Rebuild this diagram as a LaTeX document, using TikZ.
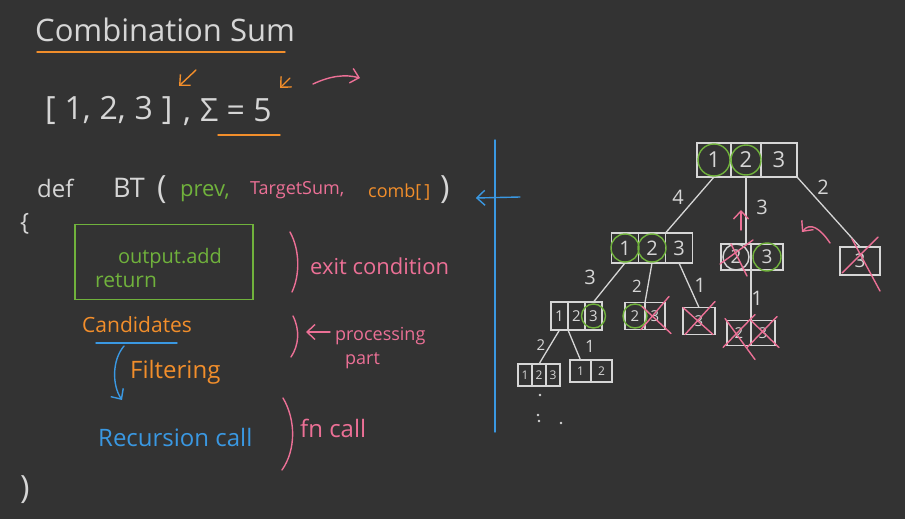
\documentclass[tikz,border=0pt]{standalone}
\usepackage{fontspec}
\setmainfont{Open Sans}
\usetikzlibrary{positioning,calc,arrows.meta}

\definecolor{board}{RGB}{51,51,51}
\definecolor{chalk}{RGB}{214,214,214}
\definecolor{penorange}{RGB}{242,142,43}
\definecolor{penpink}{RGB}{236,112,150}
\definecolor{pengreen}{RGB}{112,178,60}
\definecolor{penblue}{RGB}{58,152,226}

\begin{document}
\begin{tikzpicture}[x=1pt,y=-1pt,>={Straight Barb[length=8pt,width=15pt]},
  pen/.style={line width=1.4pt,line cap=round},
  word/.style={anchor=west,inner sep=0pt},
  big/.style={font=\fontsize{32}{38}\selectfont},
  mid/.style={font=\fontsize{24}{28}\selectfont},
  small/.style={font=\fontsize{18}{22}\selectfont},
  slot/.style={draw=chalk,line width=1.3pt,text=chalk,inner sep=0pt,outer sep=0pt},
  ring/.style={draw=pengreen,line width=1.4pt,circle,inner sep=0pt},
  cross/.style={draw=penpink,line width=1.4pt,line cap=round},
  branch/.style={draw=chalk,line width=1.3pt},
  weight/.style={text=chalk,font=\fontsize{20}{24}\selectfont}]

\fill[board] (0,0) rectangle (905,519);

% header
\node[word,text=chalk,font=\fontsize{31}{36}\selectfont] (title) at (35,30) {Combination Sum};
\draw[pen,penorange] (37,52) -- (285,52);
\node[word,big,text=chalk] (nums) at (45,110) {[\;1,\;2,\;3\;]};
\node[word,big,text=chalk] (comma) at (183,122) {,};
\node[word,big,text=chalk] (target) at (200,110) {Σ = 5};
\draw[pen,penorange] (218,135) -- (280,135);
\draw[pen,penorange,->] (196,70) -- (179,86);
\draw[pen,penorange,->] (290,78) -- (280,88);
\draw[pen,penpink,->] (313,84) .. controls (330,76) and (345,74) .. (360,78);

% function
\node[word,mid,text=chalk] (kwdef) at (37,188) {def};
\node[word,font=\fontsize{27}{32}\selectfont,text=chalk] (fname) at (113,188) {BT};
\node[word,big,text=chalk] (lparen) at (157,190) {(};
\node[word,font=\fontsize{22}{26}\selectfont,text=pengreen] (argprev) at (180,193) {prev,};
\node[word,small,text=penpink] (argsum) at (250,190) {TargetSum,};
\node[word,small,text=penorange] (argcomb) at (368,192) {comb[\,]};
\node[word,big,text=chalk] (rparen) at (440,190) {)};
\node[word,mid,text=chalk] (openbr) at (20,224) {\{};
\node[word,big,text=chalk] (closebr) at (20,490) {)};

\node[draw=pengreen,line width=1.4pt,minimum width=178,minimum height=75] (exitbox) at (164,262) {};
\node[text=pengreen,font=\fontsize{20}{24}\selectfont] (outadd) at (170,258) {output.add};
\node[word,text=pengreen,font=\fontsize{21}{25}\selectfont] (retkw) at (95,281) {return};
\draw[pen,penpink] (290,232) .. controls (300,250) and (300,275) .. (292,292);
\node[word,text=penpink,font=\fontsize{22}{26}\selectfont] (exitnote) at (310,266) {exit condition};

\node[word,text=penorange,font=\fontsize{21}{25}\selectfont] (cands) at (82,325) {Candidates};
\draw[pen,penblue] (96,343) -- (177,343);
\node[word,text=penorange,font=\fontsize{24}{28}\selectfont] (filter) at (130,372) {Filtering};
\node[word,text=penblue,font=\fontsize{24}{28}\selectfont] (recur) at (98,437) {Recursion call};
\draw[pen,penblue,->] (124,346) .. controls (112,360) and (112,385) .. (122,400);
\draw[pen,penpink] (293,316) .. controls (300,330) and (299,345) .. (291,357);
\draw[pen,penpink,->] (330,332) -- (306,332);
\node[word,small,text=penpink] (procnote) at (335,336) {processing};
\node[word,small,text=penpink] (partnote) at (345,361) {part};
\draw[pen,penpink] (283,398) .. controls (296,420) and (296,450) .. (282,470);
\node[word,text=penpink,font=\fontsize{24}{28}\selectfont] (callnote) at (300,428) {fn call};

% divider and arrow
\draw[pen,penblue] (495,140) -- (495,432);
\coordinate (calltail) at (520,197);
\draw[pen,penblue,->] (calltail) -- ($(rparen.east)+(26,8)$);

% tree
\node[slot,minimum width=34,minimum height=34,font=\fontsize{22}{26}\selectfont] (root1) at (714,160) {1};
\node[slot,minimum width=30,minimum height=34,font=\fontsize{22}{26}\selectfont,right=0pt of root1] (root2) {2};
\node[slot,minimum width=36,minimum height=34,font=\fontsize{22}{26}\selectfont,right=0pt of root2] (root3) {3};

\node[slot,minimum width=27,minimum height=30,font=\fontsize{20}{24}\selectfont] (kid1a) at (625,248) {1};
\node[slot,minimum width=27,minimum height=30,font=\fontsize{20}{24}\selectfont,right=0pt of kid1a] (kid1b) {2};
\node[slot,minimum width=27,minimum height=30,font=\fontsize{20}{24}\selectfont,right=0pt of kid1b] (kid1c) {3};

\node[slot,minimum width=30,minimum height=26,font=\fontsize{19}{23}\selectfont] (kid2a) at (736,257) {2};
\node[slot,minimum width=32,minimum height=26,font=\fontsize{19}{23}\selectfont,right=0pt of kid2a] (kid2b) {3};

\node[slot,minimum width=40,minimum height=28,font=\fontsize{19}{23}\selectfont] (kid3) at (860,261) {3};

\node[slot,minimum width=17,minimum height=28,font=\fontsize{15}{18}\selectfont] (granda1) at (559.5,316) {1};
\node[slot,minimum width=17,minimum height=28,font=\fontsize{15}{18}\selectfont,right=0pt of granda1] (granda2) {2};
\node[slot,minimum width=17,minimum height=28,font=\fontsize{15}{18}\selectfont,right=0pt of granda2] (granda3) {3};

\node[slot,minimum width=20,minimum height=27,font=\fontsize{15}{18}\selectfont] (grandb1) at (635,316) {2};
\node[slot,minimum width=20,minimum height=27,font=\fontsize{15}{18}\selectfont,right=0pt of grandb1] (grandb2) {3};

\node[slot,minimum width=32,minimum height=27,font=\fontsize{15}{18}\selectfont] (grandc) at (699,321) {3};

\node[slot,minimum width=24,minimum height=25,font=\fontsize{15}{18}\selectfont] (grandd1) at (739,333) {2};
\node[slot,minimum width=24,minimum height=25,font=\fontsize{15}{18}\selectfont,right=0pt of grandd1] (grandd2) {3};

\node[slot,minimum width=14,minimum height=22,font=\fontsize{12}{14}\selectfont] (greata1) at (525,375) {1};
\node[slot,minimum width=14,minimum height=22,font=\fontsize{12}{14}\selectfont,right=0pt of greata1] (greata2) {2};
\node[slot,minimum width=14,minimum height=22,font=\fontsize{12}{14}\selectfont,right=0pt of greata2] (greata3) {3};

\node[slot,minimum width=21,minimum height=22,font=\fontsize{12}{14}\selectfont] (greatb1) at (580.5,371) {1};
\node[slot,minimum width=21,minimum height=22,font=\fontsize{12}{14}\selectfont,right=0pt of greatb1] (greatb2) {2};

% branches
\draw[branch] (root1.south) -- (kid1b.north east);
\draw[branch] (root2.south) -- (root2.south |- kid2a.north);
\draw[branch] (root3.south east) -- (kid3.north);
\draw[branch] (kid1a.south) -- (granda3.north);
\draw[branch] (kid1b.south) -- (grandb1.north east);
\draw[branch] (kid1c.south) -- (grandc.north);
\draw[branch] (kid2a.south east) -- (grandd1.north east);
\draw[branch] (granda1.south) -- (greata2.north);
\draw[branch] (granda1.south east) -- (greatb1.north);

\node[weight] (w4) at (678,197) {4};
\node[weight] (w3) at (762,207) {3};
\node[weight] (w2) at (823,187) {2};
\node[weight] (w3b) at (590,277) {3};
\node[weight,font=\fontsize{17}{20}\selectfont] (w2b) at (637,286) {2};
\node[weight] (w1) at (700,285) {1};
\node[weight] (w1b) at (757,298) {1};
\node[weight,font=\fontsize{15}{18}\selectfont] (w2c) at (541,345) {2};
\node[weight,font=\fontsize{17}{20}\selectfont] (w1c) at (590,346) {1};

% picks
\node[ring,minimum size=32] (pick1) at (root1) {};
\node[ring,minimum size=30] (pick2) at (root2) {};
\node[ring,minimum size=28] (pick3) at (kid1a) {};
\node[ring,minimum size=28] (pick4) at (kid1b) {};
\node[ring,minimum size=28] (pick5) at (kid2b) {};
\node[ring,minimum size=24] (pick6) at (granda3) {};
\node[ring,minimum size=24] (pick7) at (grandb1) {};
\node[ring,draw=chalk,minimum size=26] (pick8) at (kid2a) {};

% dead ends
\draw[cross] ($(kid2a.north east)+(2,-4)$) -- ($(kid2a.south west)+(-1,-6)$)
  ($(kid2a.north west)+(10,0)$) -- ($(kid2a.south east)+(-4,6)$);
\draw[cross] ($(kid3.north west)+(12,-8)$) -- ($(kid3.south east)+(0,16)$)
  ($(kid3.south west)+(2,-2)$) -- ($(kid3.north east)+(-2,-10)$);
\draw[cross] ($(grandb2.north west)+(-3,4)$) -- ($(grandb2.south east)+(6,4)$)
  ($(grandb2.south west)+(-4,0)$) -- ($(grandb2.north east)+(4,-6)$);
\draw[cross] ($(grandc.north west)+(0,0)$) -- ($(grandc.south east)+(-2,0)$)
  ($(grandc.south west)+(2,0)$) -- ($(grandc.north east)+(0,-6)$);
\draw[cross] ($(grandd1.north west)+(-2,-2)$) -- ($(grandd1.south east)+(4,14)$)
  ($(grandd1.south west)+(-4,2)$) -- ($(grandd1.north east)+(4,-6)$);
\draw[cross] ($(grandd2.north west)+(0,0)$) -- ($(grandd2.south east)+(4,2)$)
  ($(grandd2.south west)+(-4,2)$) -- ($(grandd2.north east)+(2,-4)$);

% backtracking hints
\draw[pen,penpink,->] (741,230) -- (741,210);
\draw[pen,penpink,->] (830,243) .. controls (820,228) and (810,222) .. (802,232);

% more to come
\fill[chalk] (540,395) circle (1.3) (538,415) circle (1.3) (539,421) circle (1.3) (561,423) circle (1.3);

\end{tikzpicture}
\end{document}
